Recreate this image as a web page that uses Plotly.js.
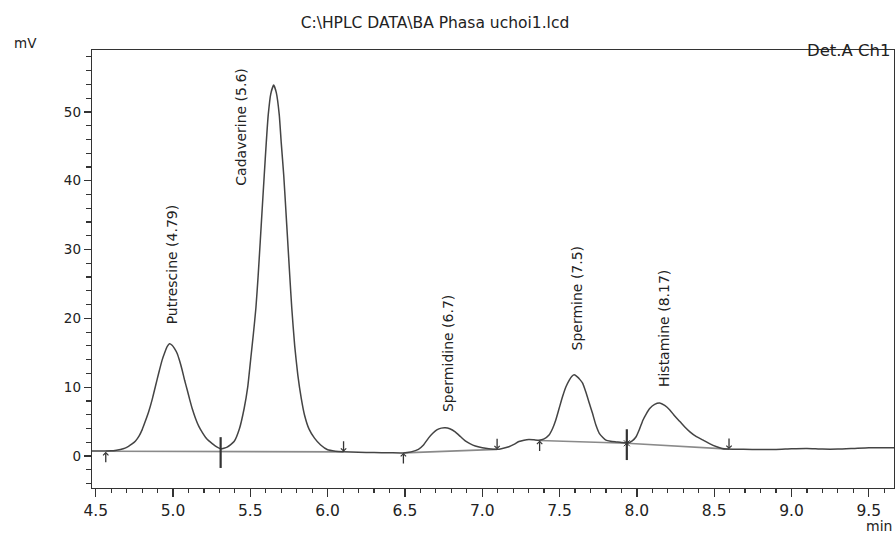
<!DOCTYPE html>
<html>
<head>
<meta charset="utf-8">
<script src="https://cdn.plot.ly/plotly-3.0.1.min.js"></script>
<style>html,body{margin:0;padding:0;background:#fff;}#chart{width:895px;height:533px;}</style>
</head>
<body>
<div id="chart"></div>
<script>
// Chromatogram trace (retention time, min) and detector signal (mV)
const times = [4.476,4.52,4.56,4.60,4.625,4.66,4.69,4.712,4.735,4.756,4.78,4.80,4.82,4.842,4.865,4.886,4.908,4.929,4.946,4.962,4.977,4.994,5.01,5.027,5.043,5.059,5.075,5.092,5.108,5.124,5.145,5.167,5.19,5.211,5.232,5.254,5.28,5.308,
  5.35,5.395,5.43,5.46,5.483,5.503,5.52,5.536,5.55,5.564,5.577,5.59,5.603,5.616,5.632,5.651,5.668,5.687,5.70,5.716,5.729,5.742,5.755,5.768,5.787,5.807,5.83,5.85,5.88,5.915,5.955,6.0,6.05,6.1,6.2,6.3,6.4,6.49,
  6.54,6.587,6.62,6.652,6.68,6.706,6.735,6.76,6.79,6.825,6.86,6.89,6.92,6.955,7.0,7.042,7.096,7.13,7.172,7.205,7.237,7.27,7.302,7.335,7.367,7.40,7.432,7.455,7.475,7.497,7.519,7.54,7.562,7.58,7.595,7.615,7.632,7.649,7.67,7.692,7.713,7.735,7.757,7.78,7.80,7.83,7.865,7.90,7.941,7.97,7.995,8.017,8.039,8.06,8.083,8.115,8.147,8.18,8.213,8.245,8.278,8.31,8.343,8.385,8.429,8.47,8.516,8.55,8.58,8.62,8.69,8.8,8.9,9.0,9.1,9.2,9.3,9.4,9.5,9.6,9.663];
const signal = [0.72,0.72,0.72,0.75,0.8,0.95,1.15,1.4,1.75,2.15,2.9,3.8,5.0,6.4,8.2,10.1,12.1,13.9,15.0,15.9,16.3,16.1,15.6,14.9,13.8,12.5,11.0,9.6,8.2,6.9,5.5,4.3,3.4,2.7,2.2,1.8,1.35,1.05,
  1.3,2.1,4.0,6.9,10.0,14.2,17.8,21.5,26.0,31.1,36.0,40.8,45.5,49.6,52.6,53.9,52.8,49.6,45.5,40.8,36.0,31.1,26.2,21.5,16.0,11.8,8.3,6.0,3.9,2.6,1.6,0.9,0.7,0.62,0.55,0.5,0.48,0.45,
  0.6,0.97,1.6,2.6,3.3,3.8,4.05,4.1,3.95,3.5,2.8,2.2,1.8,1.45,1.2,1.05,0.97,1.1,1.35,1.7,2.1,2.3,2.4,2.35,2.3,2.5,3.05,4.0,5.2,6.9,8.6,10.0,11.0,11.6,11.8,11.5,11.1,10.6,9.3,7.7,6.2,4.5,3.3,2.7,2.3,2.15,2.05,1.95,1.9,2.2,2.8,3.9,5.2,6.1,6.9,7.5,7.7,7.35,6.7,5.8,5.0,4.2,3.5,2.8,2.3,1.8,1.35,1.1,1.0,0.97,0.97,0.95,0.95,1.05,1.1,1.0,1.0,1.1,1.2,1.2,1.2];

// Integration baselines (null separates segments)
const baseTimes = [4.565,5.308,6.103,null,6.49,7.096,null,7.371,7.935,8.596];
const baseLevels = [0.7,0.7,0.6,null,0.45,0.97,null,2.25,1.85,1.0];

// Peak start/end events
const upTimes = [4.565,6.49,7.371];
const upLevels = [0.6,0.45,2.25];
const downTimes = [6.103,7.096,8.596];
const downLevels = [0.6,0.97,1.0];
const splitTimes = [5.308,7.935];
const splitLevels = [0.5,1.65];

// Peak labels
const peakNames = ["Putrescine (4.79)","Cadaverine (5.6)","Spermidine (6.7)","Spermine (7.5)","Histamine (8.17)"];
const labelTimes = [4.994,5.438,6.782,7.61,8.18];
const labelLevels = [19.0,39.1,6.25,15.2,9.9];

const xTickVals = [4.5,5.0,5.5,6.0,6.5,7.0,7.5,8.0,8.5,9.0,9.5];
const xTickText = ["4.5","5.0","5.5","6.0","6.5","7.0","7.5","8.0","8.5","9.0","9.5"];
const yTickVals = [0,10,20,30,40,50];

const FONT = "DejaVu Sans, Liberation Sans, Arial, sans-serif";

const traces = [
  {x: baseTimes, y: baseLevels, mode: 'lines', line: {color: '#8a8a8a', width: 1.6}, connectgaps: false, hoverinfo: 'skip'},
  {x: times, y: signal, mode: 'lines', line: {color: '#444', width: 1.5, shape: 'spline', smoothing: 0.5}, hoverinfo: 'skip'},
  {x: splitTimes, y: splitLevels, mode: 'markers', marker: {symbol: 'line-ns-open', size: 22, color: '#333', line: {color: '#333', width: 2.2}}, hoverinfo: 'skip'},
  {x: splitTimes.slice(1), y: splitLevels.slice(1).map(v => v + 0.2), mode: 'markers', marker: {symbol: 'x-thin-open', size: 6, color: '#333', line: {color: '#333', width: 1}}, hoverinfo: 'skip'}
];

const annotations = [];
peakNames.forEach((n, i) => {
  annotations.push({x: labelTimes[i], y: labelLevels[i], xref: 'x', yref: 'y', text: n, showarrow: false,
    textangle: -90, xanchor: 'center', yanchor: 'bottom', borderpad: 0,
    font: {family: FONT, size: 14, color: '#222'}});
});
upTimes.forEach((t, i) => {
  annotations.push({x: t, y: upLevels[i], xref: 'x', yref: 'y', text: '', showarrow: true,
    ax: 0, ay: 12, arrowhead: 4, arrowsize: 0.8, arrowwidth: 1.3, arrowcolor: '#333', standoff: 0});
});
downTimes.forEach((t, i) => {
  annotations.push({x: t, y: downLevels[i], xref: 'x', yref: 'y', text: '', showarrow: true,
    ax: 0, ay: -12, arrowhead: 4, arrowsize: 0.8, arrowwidth: 1.3, arrowcolor: '#333', standoff: 0});
});
annotations.push({x: -0.1, y: 1.016, xref: 'paper', yref: 'paper', text: 'mV', showarrow: false,
  xanchor: 'left', yanchor: 'middle', font: {family: FONT, size: 13.5, color: '#222'}});
annotations.push({x: 1.0, y: -0.087, xref: 'paper', yref: 'paper', text: 'min', showarrow: false,
  xanchor: 'right', yanchor: 'middle', font: {family: FONT, size: 14, color: '#222'}});
annotations.push({x: 0.999, y: 0.998, xref: 'paper', yref: 'paper', text: 'Det.A Ch1', showarrow: false,
  xanchor: 'right', yanchor: 'middle', font: {family: FONT, size: 16.5, color: '#222'}});

const layout = {
  width: 895, height: 533,
  margin: {l: 92, r: 1, t: 50, b: 45},
  paper_bgcolor: '#fff', plot_bgcolor: '#fff',
  showlegend: false,
  title: {text: 'C:\\HPLC DATA\\BA Phasa uchoi1.lcd', xref: 'container', yref: 'container',
    x: 0.486, xanchor: 'center', y: 0.957, yanchor: 'middle',
    font: {family: FONT, size: 15.5, color: '#222'}},
  xaxis: {range: [4.476, 9.663], tickmode: 'array', tickvals: xTickVals, ticktext: xTickText,
    ticks: 'outside', ticklen: 8, tickwidth: 1.3, tickcolor: '#333',
    minor: {dtick: 0.1, tick0: 4.5, ticks: 'outside', ticklen: 4, tickwidth: 1.2, tickcolor: '#333'},
    showline: true, linecolor: '#333', linewidth: 1.3, mirror: true,
    showgrid: false, zeroline: false,
    tickfont: {family: FONT, size: 15.5, color: '#222'}},
  yaxis: {range: [-4.65, 59.0], tickmode: 'array', tickvals: yTickVals,
    ticks: 'outside', ticklen: 7, tickwidth: 1.3, tickcolor: '#333',
    minor: {dtick: 2, tick0: 0, ticks: 'outside', ticklen: 5, tickwidth: 1.2, tickcolor: '#333'},
    showline: true, linecolor: '#333', linewidth: 1.3, mirror: true,
    showgrid: false, zeroline: false,
    tickfont: {family: FONT, size: 13.5, color: '#222'}},
  annotations: annotations
};

Plotly.newPlot('chart', traces, layout, {displayModeBar: false, staticPlot: true});
</script>
</body>
</html>
